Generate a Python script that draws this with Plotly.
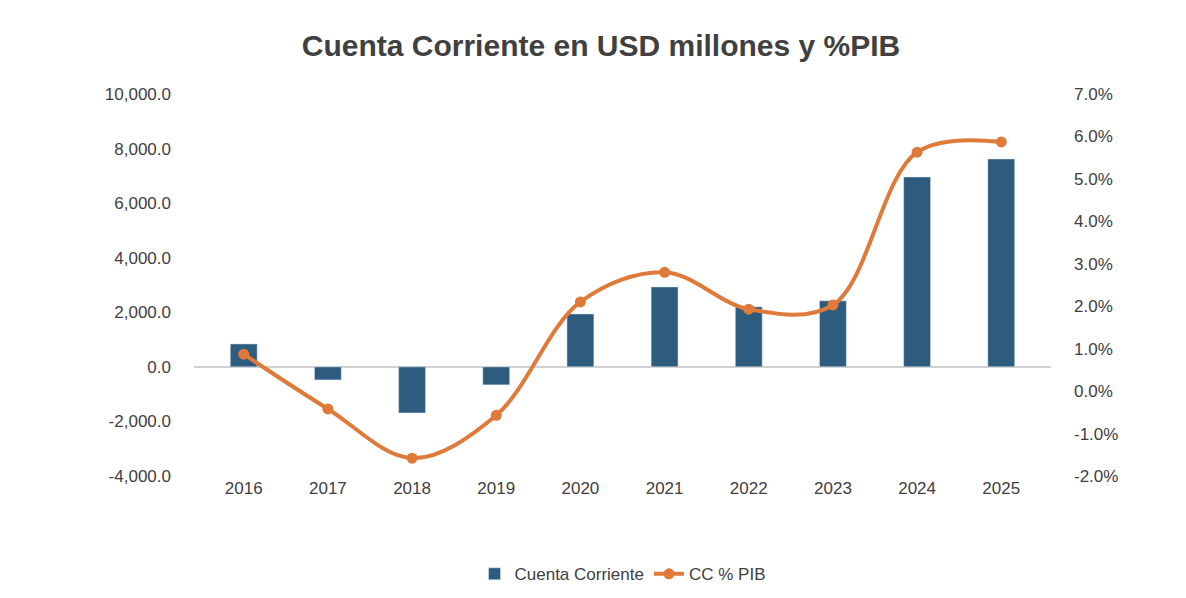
import plotly.graph_objects as go

years = ["2016", "2017", "2018", "2019", "2020", "2021", "2022", "2023", "2024", "2025"]
cuenta_corriente = [840, -480, -1690, -660, 1940, 2930, 2200, 2420, 6960, 7620]
cc_pib = [0.0087, -0.0042, -0.0158, -0.0057, 0.021, 0.028, 0.0193, 0.0203, 0.0563, 0.0587]

left_ticks = list(range(-4000, 10001, 2000))
right_ticks = [i / 100 for i in range(-2, 8)]

fig = go.Figure()
fig.add_trace(go.Bar(x=years, y=cuenta_corriente, name="Cuenta Corriente",
                     marker_color="#2E5C7E", width=0.32))
fig.add_trace(go.Scatter(x=years, y=cc_pib, name="CC % PIB", yaxis="y2",
                         mode="lines+markers", line=dict(color="#E07A3A", width=4, shape="spline", smoothing=1.0),
                         marker=dict(size=11, color="#E07A3A")))

font = dict(family="Liberation Sans, Arial", size=17, color="#404040")
fig.update_layout(
    title=dict(text="<b>Cuenta Corriente en USD millones y %PIB</b>", x=0.5, y=0.955,
               font=dict(family="Liberation Sans, Arial", size=30, color="#404040")),
    width=1186, height=598, plot_bgcolor="white", paper_bgcolor="white",
    margin=dict(l=186, r=143, t=86, b=130),
    font=font,
    xaxis=dict(showgrid=False, ticks="", tickfont=font, automargin=False),
    yaxis=dict(range=[-4000, 10000], tickvals=left_ticks,
               ticktext=[f"{v:,.1f}" for v in left_ticks], showgrid=False, automargin=False,
               zeroline=True, zerolinecolor="#D0D0D0", zerolinewidth=1.5, ticklabelstandoff=22),
    yaxis2=dict(range=[-0.02, 0.07], tickvals=right_ticks,
                ticktext=[f"{v * 100:.1f}%" for v in right_ticks], overlaying="y", side="right",
                showgrid=False, zeroline=False, automargin=False, ticklabelstandoff=22),
    legend=dict(orientation="h", x=0.5, xanchor="center", y=-0.21, yanchor="top",
                font=font),
    bargap=0.6,
)
fig.write_html("out.html")
